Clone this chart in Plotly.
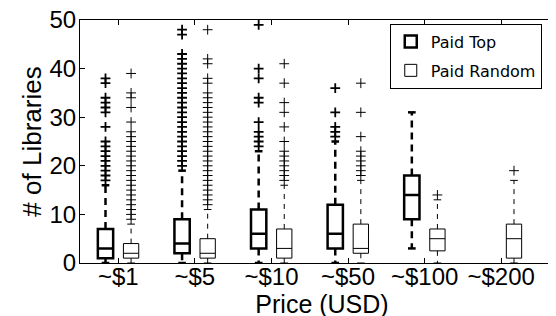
import plotly.graph_objects as go

categories = ["~$1", "~$5", "~$10", "~$50", "~$100", "~$200"]
tick_positions = [1, 2, 3, 4, 5, 6]

# Paid Top (no data for ~$200)
top_q1 = [1, 2, 3, 3, 9, None]
top_median = [3, 4, 6, 6, 14, None]
top_q3 = [7, 9, 11, 12, 18, None]
top_low = [0, 0, 0, 0, 3, None]
top_high = [16, 19, 23, 25, 31, None]
top_outliers = [
    [17, 18, 19, 20, 21, 22, 23, 24, 25, 28, 31, 32, 33, 34, 37, 38],
    [20, 21, 22, 23, 24, 25, 26, 27, 28, 29, 30, 31, 32, 33, 34, 35, 36, 37, 38, 39, 40, 41, 42, 43, 47, 48],
    [24, 25, 26, 27, 29, 33, 34, 38, 40, 49],
    [26, 27, 28, 31, 36],
    [],
    [],
]

# Paid Random
rand_q1 = [1, 1, 1, 2, 2.5, 1]
rand_median = [2, 2, 3, 3, 5, 5]
rand_q3 = [4, 5, 7, 8, 7, 8]
rand_low = [0, 0, 0, 0, 0, 0]
rand_high = [8, 11, 16, 17, 13, 17]
rand_outliers = [
    [9, 10, 11, 12, 13, 14, 15, 16, 17, 18, 19, 20, 21, 22, 23, 24, 25, 26, 27, 29, 32, 34, 35, 39],
    [12, 13, 14, 15, 16, 17, 18, 19, 20, 21, 22, 23, 24, 25, 26, 27, 28, 29, 30, 31, 32, 33, 34, 35, 37, 38, 41, 42, 48],
    [17, 18, 19, 20, 21, 22, 23, 25, 28, 31, 33, 37, 41],
    [18, 19, 20, 21, 22, 23, 26, 31, 37],
    [14],
    [19],
]

OFFSET = 0.167
BOX_W = 0.2
CAP_HALF = 0.05

fig = go.Figure()


def add_series(name, group, q1, med, q3, low, high, outl, shift, lw, dash, mlw):
    xs, qq1, mm, qq3 = [], [], [], []
    wx, wy, cx, cy, ox, oy = [], [], [], [], [], []
    for i, p in enumerate(tick_positions):
        if q1[i] is None:
            continue
        x = p + shift
        xs.append(x); qq1.append(q1[i]); mm.append(med[i]); qq3.append(q3[i])
        wx += [x, x, None, x, x, None]
        wy += [q3[i], high[i], None, q1[i], low[i], None]
        cx += [x - CAP_HALF, x + CAP_HALF, None, x - CAP_HALF, x + CAP_HALF, None]
        cy += [high[i], high[i], None, low[i], low[i], None]
        ox += [x] * len(outl[i])
        oy += outl[i]
    fig.add_trace(go.Scatter(x=wx, y=wy, mode="lines", showlegend=False, hoverinfo="skip",
                             legendgroup=group,
                             line=dict(color="black", width=lw, dash=dash), cliponaxis=False))
    fig.add_trace(go.Scatter(x=cx, y=cy, mode="lines", showlegend=False, hoverinfo="skip",
                             legendgroup=group,
                             line=dict(color="black", width=lw), cliponaxis=False))
    fig.add_trace(go.Scatter(x=ox, y=oy, mode="markers", showlegend=False, hoverinfo="skip",
                             legendgroup=group,
                             marker=dict(symbol="cross-thin", size=7, line=dict(color="black", width=mlw))))
    fig.add_trace(go.Box(name=name, x=xs, q1=qq1, median=mm, q3=qq3, legendgroup=group,
                         lowerfence=qq1, upperfence=qq3, width=BOX_W, whiskerwidth=0,
                         boxpoints=False, fillcolor="white",
                         line=dict(color="black", width=lw)))


add_series("Paid Top", "top", top_q1, top_median, top_q3, top_low, top_high, top_outliers,
           -OFFSET, 2.5, "7px,5px", 1.8)
add_series("Paid Random", "random", rand_q1, rand_median, rand_q3, rand_low, rand_high, rand_outliers,
           OFFSET, 1, "5px,5px", 1)

fig.update_layout(
    width=556, height=316,
    margin=dict(l=72, r=0, t=12, b=61, autoexpand=False),
    paper_bgcolor="white", plot_bgcolor="white",
    font=dict(family="Liberation Sans", size=24, color="black"),
    showlegend=True,
    legend=dict(x=0.64, y=0.985, xanchor="left", yanchor="top",
                bordercolor="black", borderwidth=1, bgcolor="white",
                tracegroupgap=5,
                font=dict(family="DejaVu Sans", size=16)),
    xaxis=dict(range=[0.5, 6.82], tickvals=tick_positions, ticktext=categories,
               showline=True, linecolor="black", linewidth=1, mirror="ticks",
               ticks="inside", ticklen=5, tickcolor="black", showgrid=False, zeroline=False,
               ticklabelstandoff=-8,
               title=dict(text="Price (USD)", font=dict(size=25), standoff=0)),
    yaxis=dict(range=[0, 50], tickvals=[0, 10, 20, 30, 40, 50],
               showline=True, linecolor="black", linewidth=1, mirror=False,
               ticks="inside", ticklen=5, tickcolor="black", showgrid=False, zeroline=False,
               ticklabeloverflow="allow", ticklabelstandoff=-2,
               title=dict(text="# of Libraries", font=dict(size=26), standoff=0)),
)

fig.write_html("out.html")
